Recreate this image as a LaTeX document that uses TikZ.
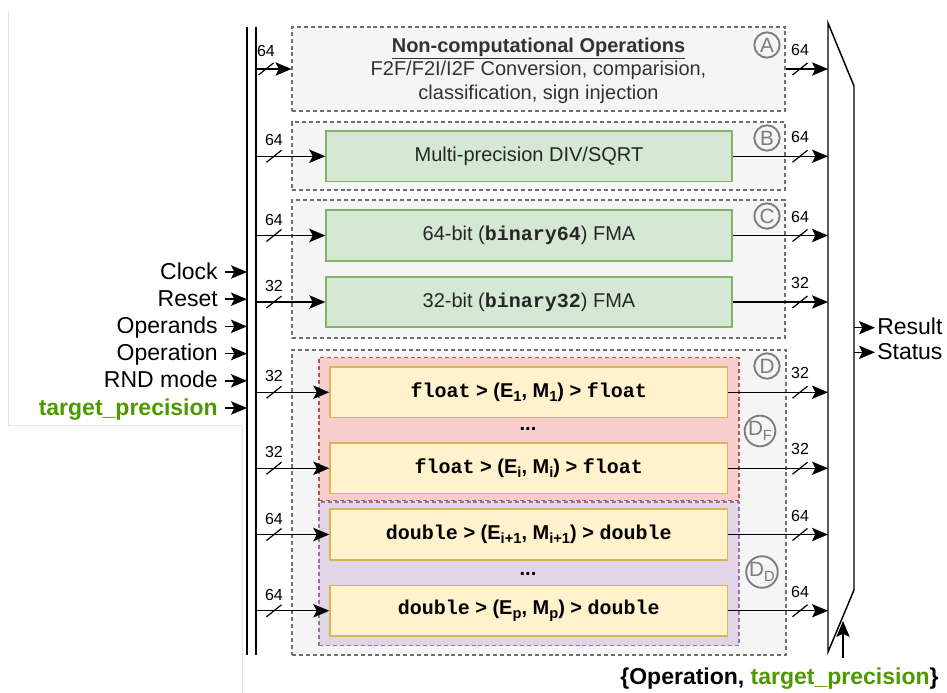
\documentclass[tikz,border=0pt]{standalone}
\usepackage{fontspec}
\setmainfont{Liberation Sans}
\setmonofont{Liberation Mono}
\usetikzlibrary{arrows.meta,fit}
\definecolor{dgray}{HTML}{707070}
\definecolor{lgray}{HTML}{F5F5F5}
\definecolor{cgray}{HTML}{7C7C7C}
\definecolor{tgray}{HTML}{333333}
\definecolor{gfill}{HTML}{D5E8D4}
\definecolor{gline}{HTML}{82B366}
\definecolor{yfill}{HTML}{FFF2CC}
\definecolor{yline}{HTML}{D6B656}
\definecolor{rfill}{HTML}{F8CECC}
\definecolor{rline}{HTML}{B85450}
\definecolor{pfill}{HTML}{E1D5E7}
\definecolor{pline}{HTML}{9673A6}
\definecolor{tpgreen}{HTML}{4D9900}
\definecolor{framecol}{HTML}{E4E4E4}
\newcommand\sbs[1]{\raisebox{-0.35ex}{\fontsize{11}{11}\selectfont #1}}
\newcommand\tsb[1]{\raisebox{-0.4ex}{\fontsize{11}{11}\selectfont #1}}
\newcommand\tpr{\textcolor{tpgreen}{target\_precision}}
\begin{document}
\begin{tikzpicture}[x=0.75pt,y=-0.75pt,
  dbox/.style={draw=dgray, fill=lgray, line width=0.8pt, dash pattern=on 3pt off 2.2pt, inner sep=0},
  gbox/.style={draw=gline, fill=gfill, line width=1pt, inner sep=0},
  ybox/.style={draw=yline, fill=yfill, line width=1pt, inner sep=0},
  rbox/.style={draw=rline, fill=rfill, line width=0.8pt, dash pattern=on 3pt off 2.2pt, inner sep=0},
  pbox/.style={draw=pline, fill=pfill, line width=0.8pt, dash pattern=on 3pt off 2.2pt, inner sep=0},
  gtext/.style={inner sep=0, text=black!85, font=\fontsize{15}{18}\selectfont},
  ytext/.style={inner sep=0, font=\fontsize{15}{18}\selectfont\bfseries},
  wire/.style={line width=1.1pt},
  arr/.style={wire, -{Stealth[length=12pt,width=10pt,inset=2.5pt]}},
  bits/.style={font=\fontsize{12}{13}\selectfont, inner sep=0},
  tag/.style={circle, draw=cgray, line width=1.4pt, text=cgray, minimum size=19pt, inner sep=0, font=\fontsize{15.5}{15.5}\selectfont},
  bigtag/.style={tag, minimum size=23pt},
  sig/.style={font=\fontsize{17.25}{20}\selectfont, inner sep=0},
  pics/slash/.style={code={\draw[line width=0.9pt] (-7.5,6) -- (7.5,-6);}}
]
\fill[white] (0,0) rectangle (947,693);
\useasboundingbox (0,0) rectangle (947,693);
\draw[framecol, line width=0.6pt] (8,11) -- (8,425) -- (242,425) -- (242,693);

\coordinate (busL) at (247,0);
\coordinate (busR) at (256,0);
\coordinate (muxL) at (828,0);
\coordinate (muxR) at (854,0);
\coordinate (sIn) at (274,0);
\coordinate (sInA) at (266,0);
\coordinate (sOut) at (800,0);

% bus
\draw[wire] (247,27) -- (247,655);
\draw[wire] (256,27) -- (256,655);
% mux
\draw[wire, line join=miter] (828,23) -- (854,86) -- (854,590) -- (828,652) -- cycle;

% blocks
\node[dbox, fit={(292,27) (785,111)}] (A) {};
\node[text=tgray, align=center, inner sep=0, font=\fontsize{15}{17.6}\selectfont] (At) at (538.5,70.5)
  {\textbf{\underline{Non-computational Operations}}\\F2F/F2I/I2F Conversion, comparision,\\classification, sign injection};
\node[dbox, fit={(292,122) (785,190)}] (B) {};
\node[gbox, fit={(326,131) (732,181.5)}] (b) {};
\node[gtext] (bt) at (b.center) {Multi-precision DIV/SQRT};
\node[dbox, fit={(292,200) (785,338)}] (C) {};
\node[gbox, fit={(326,210) (732,261)}] (c1) {};
\node[gtext] (c1t) at (c1.center) {64-bit (\texttt{\textbf{binary64}}) FMA};
\node[gbox, fit={(326,277) (732,327)}] (c2) {};
\node[gtext] (c2t) at (c2.center) {32-bit (\texttt{\textbf{binary32}}) FMA};
\node[dbox, fit={(292,350) (786,655)}] (D) {};
\node[pbox, fit={(319,502) (739,645.5)}] (DD) {};
\node[rbox, fit={(319,357.5) (739,500.5)}] (DF) {};
\node[ybox, fit={(330,367) (727.5,417.5)}] (y1) {};
\node[ytext] (y1t) at (y1.center) {\texttt{float} > (E\sbs{1}, M\sbs{1}) > \texttt{float}};
\node[ybox, fit={(330,443) (727.5,493.5)}] (y2) {};
\node[ytext] (y2t) at (y2.center) {\texttt{float} > (E\sbs{i}, M\sbs{i}) > \texttt{float}};
\node[ybox, fit={(330,509) (727.5,560)}] (y3) {};
\node[ytext] (y3t) at (y3.center) {\texttt{double} > (E\sbs{i+1}, M\sbs{i+1}) > \texttt{double}};
\node[ybox, fit={(330,585.5) (727.5,636)}] (y4) {};
\node[ytext] (y4t) at (y4.center) {\texttt{double} > (E\sbs{p}, M\sbs{p}) > \texttt{double}};
\node[font=\fontsize{15}{18}\selectfont\bfseries, inner sep=0] (dots1) at (528,429) {...};
\node[font=\fontsize{15}{18}\selectfont\bfseries, inner sep=0] (dots2) at (528,574) {...};

% tags
\node[tag] (tA) at (767,45) {A};
\node[tag] (tB) at (767,138) {B};
\node[tag] (tC) at (767,216) {C};
\node[tag] (tD) at (767,366) {D};
\node[bigtag] (tDF) at (760,431) {D\tsb{F}};
\node[bigtag] (tDD) at (762,572) {D\tsb{D}};

% A input / output
\draw[arr] (A.west -| busR) -- (A.west);
\pic at (A.west -| sInA) {slash};
\node[bits, yshift=13.5pt] (liA) at (A.west -| sInA) {64};
\draw[arr] (A.east) -- (A.east -| muxL);
\pic at (A.east -| sOut) {slash};
\node[bits, yshift=14.25pt] (loA) at (A.east -| sOut) {64};

\foreach \n/\w in {b/64,c1/64,c2/32,y1/32,y2/32,y3/64,y4/64}{
  \draw[arr] (\n.west -| busR) -- (\n.west);
  \pic at (\n.west -| sIn) {slash};
  \node[bits, yshift=12pt] (li\n) at (\n.west -| sIn) {\w};
  \draw[arr] (\n.east) -- (\n.east -| muxL);
  \pic at (\n.east -| sOut) {slash};
  \node[bits, yshift=14.25pt] (lo\n) at (\n.east -| sOut) {\w};
}

% left signals
\foreach \n/\t/\y in {clk/Clock/272,rst/Reset/299.2,opd/Operands/326.4,opn/Operation/353.6,rnd/RND mode/380.8,tgt/{\textbf{\tpr}}/408}{
  \node[sig, anchor=base east] (\n) at (218,\y+7) {\t};
  \path ([shift={(7,-7)}]\n.base east) coordinate (\n a);
  \draw[arr] (\n a) -- (\n a -| busL);
}

% outputs
\node[sig, anchor=base west] (res) at (877,327.7+7) {Result};
\node[sig, anchor=base west] (sta) at (877,352.3+7) {Status};
\path ([shift={(-2,-7)}]res.base west) coordinate (resa);
\path ([shift={(-2,-7)}]sta.base west) coordinate (staa);
\draw[arr] (resa -| muxR) -- (resa);
\draw[arr] (staa -| muxR) -- (staa);

% control
\node[sig, anchor=base, font=\fontsize{17.25}{20}\selectfont\bfseries] (ctl) at (779.5,684) {\{Operation, \tpr\}};
\coordinate (ctlTop) at (843,658);
\coordinate (muxB) at (843,621);
\draw[arr] (ctlTop) -- (muxB);
\end{tikzpicture}
\end{document}
